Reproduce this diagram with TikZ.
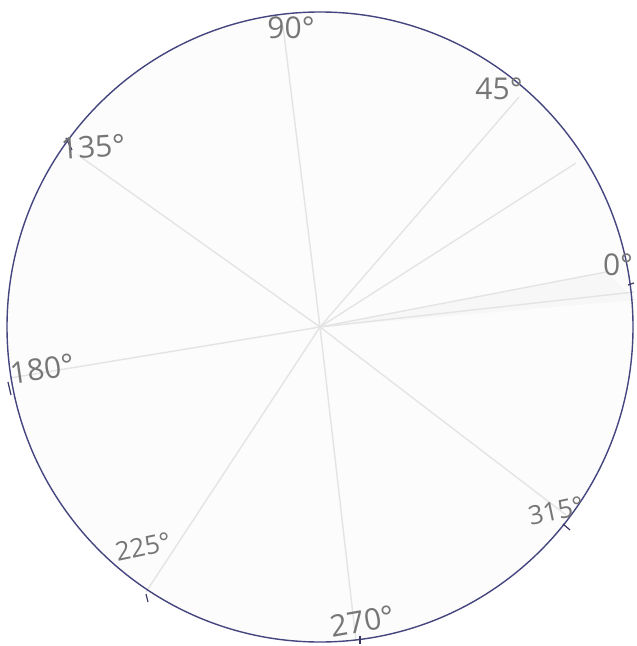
\documentclass[tikz,border=0pt]{standalone}
\usepackage{fontspec}
\setmainfont{Open Sans}
\definecolor{ink}{HTML}{45457F}
\definecolor{pencil}{HTML}{767676}
\definecolor{crease}{HTML}{E4E4E4}
\definecolor{paper}{HTML}{FCFCFC}
\begin{document}
\begin{tikzpicture}[x=0.5pt,y=-0.5pt,
  rim/.style={draw=ink,line width=0.7pt},
  fold/.style={draw=crease,line width=0.7pt},
  tick/.style={draw=ink!80!black,line width=0.6pt},
  lbl/.style={text=pencil,font=\fontsize{15}{15}\selectfont,inner sep=0pt}]
\useasboundingbox (0,0) rectangle (636,646);
\fill[white] (0,0) rectangle (636,646);
\coordinate (O) at (320,327);
\fill[paper] (O) ellipse [x radius=313, y radius=315];
% band below 0 deg fold
\fill[black!3] (O) -- (606,272) -- (636,300) -- (O);
% creases
\foreach \p in {(283,26),(519,97),(576,163),(606,272),(634,292),(10,378),(146,592),(356,641),(566,515),(78,155)}
  \draw[fold] (O) -- \p;
% rim
\draw[rim] (O) ellipse [x radius=313, y radius=315];
% pen ticks on the rim
\draw[tick] (66,138) -- (72,150);
\draw[tick] (8,382) -- (11,395);
\draw[tick] (146,594) -- (148,602);
\draw[tick] (360,636) -- (360,644);
\draw[tick] (563,524) -- (570,530);
\draw[tick] (628,285) -- (634,283);
% labels
\node[lbl] (l90) at (291,28) {90°};
\node[lbl] (l45) at (499,89) {45°};
\node[lbl,rotate=4] (l135) at (93,147) {135°};
\node[lbl] (l0) at (618,265) {0°};
\node[lbl,rotate=8] (l180) at (42,369) {180°};
\node[lbl,rotate=12,font=\fontsize{13}{13}\selectfont] (l225) at (143,547) {225°};
\node[lbl,rotate=10] (l270) at (362,621) {270°};
\node[lbl,rotate=12,font=\fontsize{13}{13}\selectfont] (l315) at (556,511) {315°};
\end{tikzpicture}
\end{document}
